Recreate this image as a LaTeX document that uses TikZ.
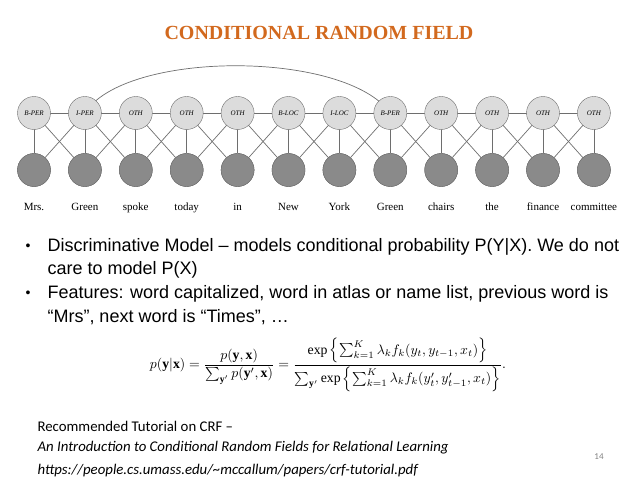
\documentclass[tikz,border=0pt]{standalone}
\usepackage{amsmath}
\usepackage{fontspec}
\setmainfont{Liberation Serif}
\newfontfamily\arial{Liberation Sans}
\newfontfamily\carl{Carlito}
\definecolor{ttl}{HTML}{D2691E}
\definecolor{topc}{HTML}{DCDCDC}
\definecolor{botc}{HTML}{8A8A8A}
\definecolor{edg}{HTML}{6E6E6E}
\begin{document}
\begin{tikzpicture}[x=1pt,y=-1pt,
  tagc/.style={circle,draw=edg,fill=topc,minimum size=33pt,inner sep=0pt,font=\fontsize{7}{8}\selectfont\itshape},
  obsc/.style={circle,draw=edg,fill=botc,minimum size=33pt,inner sep=0pt},
  wrd/.style={anchor=base,font=\fontsize{11}{12}\selectfont},
  ln/.style={draw=edg,line width=0.7pt},
  bul/.style={anchor=west,font=\arial\fontsize{18}{20}\selectfont},
  ref/.style={anchor=west,font=\carl\fontsize{14.8}{17}\selectfont}]
\useasboundingbox (0,0) rectangle (638,479);
\node[font=\bfseries\fontsize{20}{22}\selectfont,text=ttl] (title) at (319,33) {CONDITIONAL RANDOM FIELD};
\foreach \i/\w in {1/Mrs.,2/Green,3/spoke,4/today,5/in,6/New,7/York,8/Green,9/chairs,10/the,11/finance,12/committee}{
  \pgfmathsetmacro\xx{34+(\i-1)*50.9}
  \node[obsc] (o\i) at (\xx,170) {};
  \node[wrd] (w\i) at (\xx,210) {\w};
  \coordinate (tc\i) at (\xx,113);
}
\foreach \i in {1,...,11}{
  \pgfmathtruncatemacro\j{\i+1}
  \draw[ln] (tc\i) -- (tc\j);
  \draw[ln] (tc\i) -- (o\j);
  \draw[ln] (tc\j) -- (o\i);
}
\foreach \i in {1,...,12}{\draw[ln] (tc\i) -- (o\i);}
\draw[ln] (tc2) .. controls (125,50) and (345,50) .. (tc8);
\foreach \i/\t in {1/B-PER,2/I-PER,3/OTH,4/OTH,5/OTH,6/B-LOC,7/I-LOC,8/B-PER,9/OTH,10/OTH,11/OTH,12/OTH}{
  \node[tagc] (t\i) at (tc\i) {\t};
}
\foreach \i in {1,...,12}{\node[obsc] at (o\i) {};}
\node[bul,font=\arial\fontsize{14}{16}\selectfont] (b1) at (22,247) {•};
\node[bul] (l1) at (44,247) {Discriminative Model – models conditional probability P(Y|X). We do not};
\node[bul] (l2) at (44,270) {care to model P(X)};
\node[bul,font=\arial\fontsize{14}{16}\selectfont] (b2) at (22,294) {•};
\node[bul] (l3) at (44,294) {Features: word capitalized, word in atlas or name list, previous word is};
\node[bul] (l4) at (44,317) {“Mrs”, next word is “Times”, …};
\node (eq) at (328,365) {\scalebox{1.38}{$\displaystyle p(\mathbf{y}|\mathbf{x}) = \frac{p(\mathbf{y},\mathbf{x})}{\sum_{\mathbf{y}'} p(\mathbf{y}',\mathbf{x})} = \frac{\exp\left\{\sum_{k=1}^K \lambda_k f_k(y_t,y_{t-1},x_t)\right\}}{\sum_{\mathbf{y}'}\exp\left\{\sum_{k=1}^K \lambda_k f_k(y'_t,y'_{t-1},x_t)\right\}}.$}};
\node[ref] (r1) at (34,426) {Recommended Tutorial on CRF –};
\node[ref] (r2) at (34,448) {\itshape An Introduction to Conditional Random Fields for Relational Learning};
\node[ref] (r3) at (34,471) {\itshape https://people.cs.umass.edu/\~{}mccallum/papers/crf-tutorial.pdf};
\node[font=\carl\fontsize{9}{10}\selectfont,text=gray] (pg) at (599,457) {14};
\end{tikzpicture}
\end{document}
